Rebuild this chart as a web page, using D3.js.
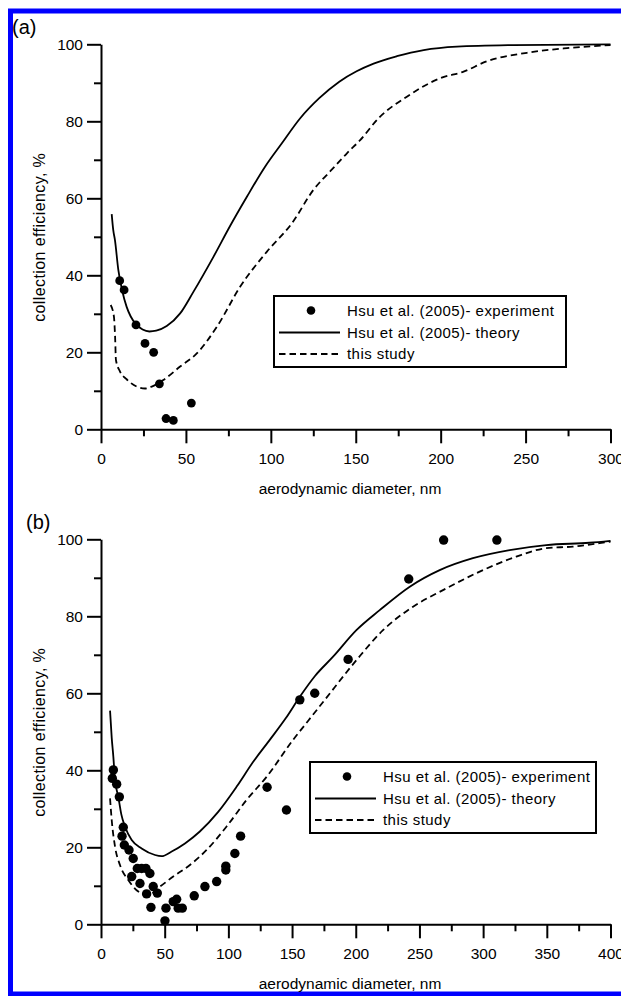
<!DOCTYPE html>
<html>
<head>
<meta charset="utf-8">
<script src="https://cdn.jsdelivr.net/npm/d3@7"></script>
<style>
  html, body { margin: 0; padding: 0; background: #fff; }
  svg text { font-family: "Liberation Sans", Arial, sans-serif; fill: #000; }
</style>
</head>
<body>
<svg id="chart" width="621" height="996"></svg>
<script>
// ---------- data ----------
const legendLabels = ["Hsu et al. (2005)- experiment", "Hsu et al. (2005)- theory", "this study"];
const xTitle = "aerodynamic diameter, nm";
const yTitle = "collection efficiency, %";
const yMajorTicks = [0, 20, 40, 60, 80, 100];
const yMinorTicks = [10, 30, 50, 70, 90];

// panel (a)
const aXMajorTicks = [0, 50, 100, 150, 200, 250, 300];
const aXMinorTicks = [25, 75, 125, 175, 225, 275];
const aExperiment = [[11.0,38.6],[13.6,36.2],[20.6,27.1],[25.9,22.3],[31.0,20.0],[34.4,11.8],[38.3,2.8],[42.6,2.3],[53.2,6.8]];
const aTheory = [[6.3,55.9],[7.2,51.8],[8.2,49.2],[10.2,41.4],[12.5,36.0],[15.1,31.8],[17.5,29.3],[20.6,27.3],[24.5,25.9],[28.5,25.4],[32.5,25.6],[38.7,26.8],[46.6,30.1],[54.4,35.7],[66.2,44.8],[76.0,52.8],[85.9,60.4],[96.6,68.2],[106.5,74.3],[117.3,80.8],[128.5,86.0],[140.3,90.3],[150.5,93.0],[160.5,95.0],[174.2,96.9],[190.0,98.5],[209.6,99.4],[243.0,99.8],[300.0,100.0]];
const aStudy = [[5.7,32.3],[7.6,29.3],[8.3,24.0],[8.8,18.0],[11.2,15.0],[15.1,13.0],[21.0,11.1],[25.9,10.6],[29.9,11.1],[36.7,12.8],[46.6,16.3],[56.4,19.7],[68.2,26.6],[81.9,37.0],[97.6,46.1],[112.4,53.5],[125.1,62.2],[136.0,67.5],[144.8,71.7],[152.6,75.1],[163.4,80.8],[180.1,86.4],[199.8,91.2],[213.5,92.9],[227.3,95.6],[250.8,97.8],[274.4,99.0],[300.0,99.8]];

// panel (b)
const bXMajorTicks = [0, 50, 100, 150, 200, 250, 300, 350, 400];
const bXMinorTicks = [25, 75, 125, 175, 225, 275, 325, 375];
const bExperiment = [[8.9,37.9],[9.7,40.1],[12.3,36.4],[14.4,33.1],[16.5,22.9],[17.5,25.2],[18.3,20.6],[22.0,19.3],[24.1,12.4],[25.3,17.1],[28.5,14.5],[30.6,10.6],[31.9,14.5],[35.3,14.5],[35.8,7.9],[38.4,13.2],[39.2,4.4],[41.0,9.8],[44.2,8.1],[50.2,0.9],[51.0,4.2],[56.7,5.9],[59.4,6.5],[60.6,4.2],[63.8,4.2],[73.2,7.4],[81.6,9.8],[90.8,11.1],[98.0,14.1],[98.0,15.1],[105.1,18.4],[109.6,22.9],[130.4,35.6],[145.6,29.7],[156.1,58.3],[167.8,60.0],[194.0,68.8],[241.6,89.7],[269.0,99.8],[310.8,99.8]];
const bTheory = [[7.1,55.5],[8.4,48.5],[9.7,43.5],[11.0,37.5],[13.6,33.1],[16.0,28.5],[18.8,25.4],[24.1,21.9],[31.9,19.7],[42.4,18.0],[47.6,17.7],[55.5,18.9],[65.9,21.0],[77.6,24.1],[92.0,29.2],[106.4,35.7],[119.5,42.2],[132.5,47.9],[145.0,53.5],[156.1,59.1],[168.0,64.5],[182.2,69.5],[200.5,76.4],[218.8,81.6],[242.4,87.7],[265.9,92.0],[292.0,95.1],[320.8,97.2],[349.6,98.5],[383.5,99.1],[400.0,99.6]];
const bStudy = [[7.1,32.7],[8.4,27.1],[11.0,20.2],[14.9,15.4],[21.4,11.5],[29.3,8.5],[37.1,7.6],[46.3,9.8],[56.7,12.4],[69.8,15.4],[82.9,19.3],[98.6,25.4],[114.3,32.3],[130.0,38.3],[150.8,47.9],[163.0,53.0],[175.7,58.3],[200.5,68.6],[221.4,76.4],[245.0,82.5],[268.5,86.8],[297.3,91.6],[326.0,95.5],[349.6,97.7],[370.4,98.1],[391.4,99.0],[400.0,99.4]];

// ---------- drawing ----------
const svg = d3.select("#chart");
svg.append("rect").attr("x",0).attr("y",0).attr("width",621).attr("height",996).attr("fill","#fff");
// blue frame
svg.append("rect").attr("x",10.5).attr("y",11).attr("width",660).attr("height",983)
  .attr("fill","none").attr("stroke","#0000ff").attr("stroke-width",5);

function panel(cfg) {
  const g = svg.append("g");
  const x = d3.scaleLinear().domain([0, cfg.xMax]).range([101, 610.5]);
  const y = d3.scaleLinear().domain([0, 100]).range([cfg.y0, cfg.y0 - 385]);

  // minor ticks
  g.append("g").attr("transform", `translate(0,${cfg.y0})`)
    .call(d3.axisBottom(x).tickValues(cfg.xMinor).tickSize(7).tickFormat("").tickSizeOuter(0))
    .call(s => s.select(".domain").remove());
  g.append("g").attr("transform", `translate(101,0)`)
    .call(d3.axisLeft(y).tickValues(yMinorTicks).tickSize(7).tickFormat("").tickSizeOuter(0))
    .call(s => s.select(".domain").remove());
  // major
  g.append("g").attr("transform", `translate(0,${cfg.y0})`)
    .call(d3.axisBottom(x).tickValues(cfg.xMajor).tickSize(14).tickPadding(10).tickSizeOuter(0));
  g.append("g").attr("transform", `translate(101,0)`)
    .call(d3.axisLeft(y).tickValues(yMajorTicks).tickSize(14).tickPadding(4).tickSizeOuter(0));
  g.selectAll(".tick line, .domain").attr("stroke","#000").attr("stroke-width",2);
  g.selectAll(".tick text").attr("font-size", 15.5).attr("font-family", "Liberation Sans, Arial, sans-serif").attr("fill","#000");

  // curves
  const line = d3.line().x(d => x(d[0])).y(d => y(d[1])).curve(d3.curveMonotoneX);
  g.append("path").datum(cfg.theory).attr("d", line)
    .attr("fill","none").attr("stroke","#000").attr("stroke-width",1.8);
  g.append("path").datum(cfg.study).attr("d", line)
    .attr("fill","none").attr("stroke","#000").attr("stroke-width",1.8).attr("stroke-dasharray","6.5,4");
  // points
  g.selectAll("circle.pt").data(cfg.exp).enter().append("circle")
    .attr("cx", d => x(d[0])).attr("cy", d => y(d[1])).attr("r", cfg.r).attr("fill","#000");

  // titles
  g.append("text").attr("x", 350).attr("y", cfg.y0 + 65).attr("text-anchor","middle")
    .attr("font-size", 15.5).text(xTitle);
  g.append("text").attr("transform", `translate(45,${cfg.y0 - 192}) rotate(-90)`)
    .attr("text-anchor","middle").attr("font-size", 16).attr("letter-spacing","0.4px").text(yTitle);
  g.append("text").attr("x", cfg.labelX).attr("y", cfg.labelY)
    .attr("font-family","Liberation Serif, Times New Roman, serif").attr("font-size", 20).text(cfg.label);

  // legend
  const L = cfg.legend;
  const lg = g.append("g").attr("transform", `translate(${L.x},${L.y})`);
  lg.append("rect").attr("x",0).attr("y",0).attr("width",L.w).attr("height",71)
    .attr("fill","#fff").attr("stroke","#000").attr("stroke-width",2);
  const rows = [14.5, 36.5, 58];
  lg.append("circle").attr("cx",37).attr("cy",rows[0]).attr("r",4.3).attr("fill","#000");
  lg.append("line").attr("x1",5).attr("x2",66).attr("y1",rows[1]).attr("y2",rows[1])
    .attr("stroke","#000").attr("stroke-width",1.8);
  lg.append("line").attr("x1",5).attr("x2",66).attr("y1",rows[2]).attr("y2",rows[2])
    .attr("stroke","#000").attr("stroke-width",1.8).attr("stroke-dasharray","6.5,4");
  legendLabels.forEach((t,i) => {
    lg.append("text").attr("x",73).attr("y",rows[i]).attr("dy","0.36em")
      .attr("font-size",15).attr("letter-spacing","0.45px").text(t);
  });
}

panel({ xMax: 300, y0: 429.3, xMajor: aXMajorTicks, xMinor: aXMinorTicks,
  exp: aExperiment, theory: aTheory, study: aStudy, r: 4.4,
  label: "(a)", labelX: 12, labelY: 34,
  legend: { x: 274, y: 296, w: 292 } });
panel({ xMax: 400, y0: 924.3, xMajor: bXMajorTicks, xMinor: bXMinorTicks,
  exp: bExperiment, theory: bTheory, study: bStudy, r: 4.7,
  label: "(b)", labelX: 26, labelY: 529,
  legend: { x: 310, y: 762, w: 286 } });
</script>
</body>
</html>
